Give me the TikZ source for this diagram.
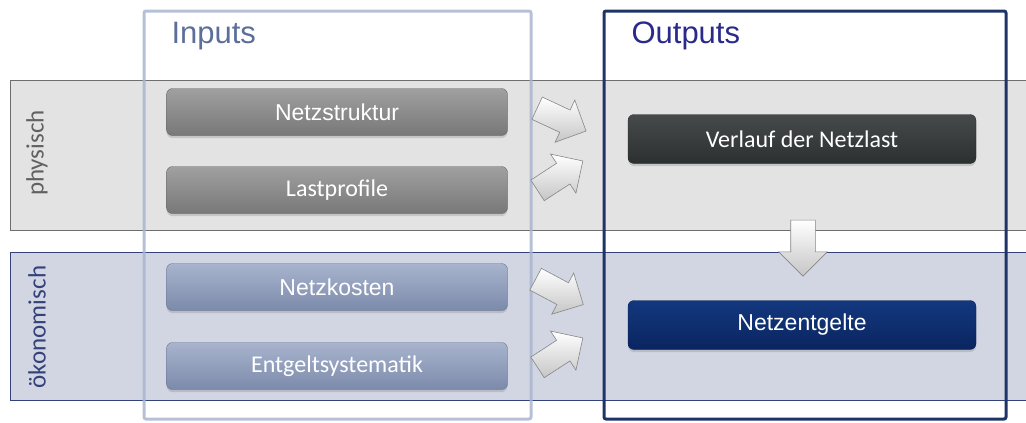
\documentclass[tikz,border=0pt]{standalone}
\usepackage{fontspec}
\setmainfont{Liberation Sans}
\newfontfamily\calib{Carlito}
\usetikzlibrary{shapes.arrows, shadows, positioning, calc}
\definecolor{bandgray}{HTML}{E3E3E3}
\definecolor{bandgrayline}{HTML}{6E6E6E}
\definecolor{bandblue}{HTML}{D2D6E2}
\definecolor{bandblueline}{HTML}{34427A}
\definecolor{inframe}{HTML}{A9B5CF}
\definecolor{intext}{HTML}{5C6F98}
\definecolor{outframe}{HTML}{1E3468}
\definecolor{outtext}{HTML}{2A2A8A}
\definecolor{graytop}{HTML}{A0A0A0}
\definecolor{graybot}{HTML}{787878}
\definecolor{bluetop}{HTML}{A8B4CD}
\definecolor{bluebot}{HTML}{7C8AAB}
\definecolor{darktop}{HTML}{464A4A}
\definecolor{darkbot}{HTML}{2C3030}
\definecolor{navytop}{HTML}{13387E}
\definecolor{navybot}{HTML}{0A2560}
\tikzset{
  hd/.style={font=\fontsize{31}{33}\selectfont, anchor=west},
  side/.style={font=\calib\fontsize{25}{27}\selectfont, rotate=90},
  cardbox/.style={rounded corners=6pt, minimum height=47pt, text=white,
    top color=#1top, bottom color=#1bot, draw=#1bot!80!black, line width=0.3pt,
    drop shadow={shadow xshift=0pt, shadow yshift=-2.5pt, opacity=0.3}},
  inbox/.style={cardbox=#1, minimum width=341pt},
  outbox/.style={cardbox=#1, minimum width=348pt, minimum height=49pt},
  arial/.style={font=\fontsize{23}{25}\selectfont},
  cali/.style={font=\calib\fontsize{24}{26}\selectfont},
  fatarrow/.style={single arrow, single arrow head extend=11pt, minimum height=54pt,
    inner xsep=0pt, inner ysep=12pt, text height=0pt, text depth=0pt,
    top color=white, bottom color=gray!45, draw=gray!95, line width=0.6pt},
}
\begin{document}
\begin{tikzpicture}[x=1pt, y=-1pt]
  \useasboundingbox (0,0) rectangle (1026,423);
  % bands
  \fill[bandgray] (10,80) rectangle (1026,230);
  \draw[bandgrayline, line width=0.8pt] (1026,80) -- (10,80) -- (10,230) -- (1026,230);
  \fill[bandblue] (10,252) rectangle (1026,400);
  \draw[bandblueline, line width=0.8pt] (1026,252) -- (10,252) -- (10,400) -- (1026,400);
  \node[side, text=black!62] (physisch) at (37,153) {physisch};
  \node[side, text=bandblueline] (oekonomisch) at (37,327) {ökonomisch};
  % frames
  \draw[inframe, line width=3pt, rounded corners=2pt, opacity=0.85] (144,11) rectangle (531,419);
  \draw[outframe, line width=3pt, rounded corners=2pt] (604,11) rectangle (1006,419);
  \node[hd, text=intext] (inputs) at (168,36) {Inputs};
  \node[hd, text=outtext] (outputs) at (628,36) {Outputs};
  % inputs
  \node[inbox=gray, arial] (netzstruktur) at (337,112) {Netzstruktur};
  \node[inbox=gray, cali] (lastprofile) at (337,190) {Lastprofile};
  \node[inbox=blue, arial] (netzkosten) at (337,287) {Netzkosten};
  \node[inbox=blue, cali] (entgelt) at (337,366) {Entgeltsystematik};
  % outputs
  \node[outbox=dark, cali] (verlauf) at (802,139) {Verlauf der Netzlast};
  \node[outbox=navy, arial] (netzentgelte) at (802,325) {Netzentgelte};
  % arrows
  \node[fatarrow, rotate=-25] (a1) at (556,117) {};
  \node[fatarrow, rotate=33] (a2) at (555,179) {};
  \node[fatarrow, rotate=-28] (a3) at (554,289) {};
  \node[fatarrow, rotate=33] (a4) at (555,356) {};
  \node[fatarrow, inner ysep=12pt, single arrow head extend=12pt, minimum height=56pt, rotate=-90] (a5) at (803,242) {};
\end{tikzpicture}
\end{document}
